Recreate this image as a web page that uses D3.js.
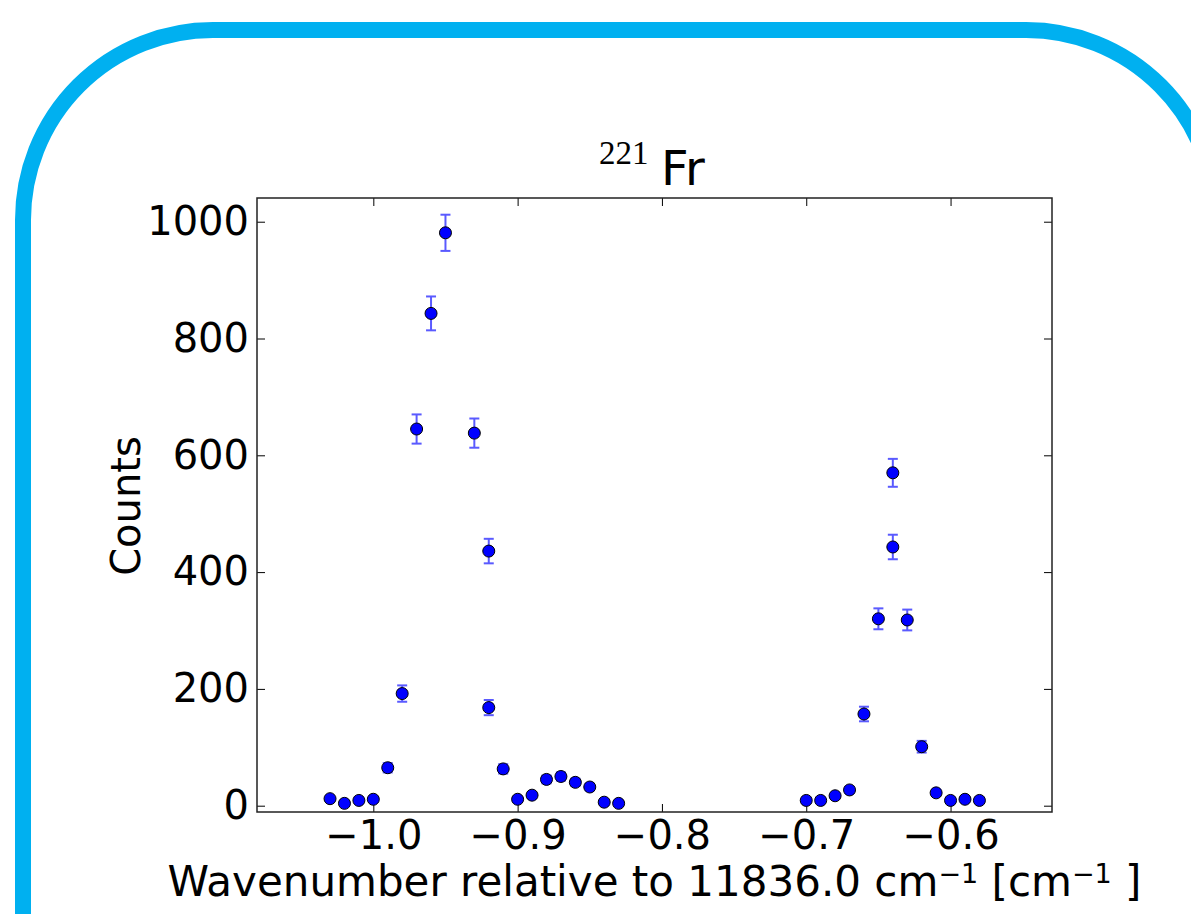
<!DOCTYPE html>
<html>
<head>
<meta charset="utf-8">
<script src="https://cdn.jsdelivr.net/npm/d3@7"></script>
<style>
  body { margin: 0; background: #fff; }
  svg { display: block; font-family: "DejaVu Sans", sans-serif; }
</style>
</head>
<body>
<svg id="chart"></svg>
<script>
// wavenumber offsets (cm^-1), counts and their error bars
const wavenumber = [-1.03, -1.02, -1.01, -1.00, -0.99, -0.98, -0.97, -0.96, -0.95, -0.93,
                    -0.92, -0.92, -0.91, -0.90, -0.89, -0.88, -0.87, -0.86, -0.85, -0.84,
                    -0.83, -0.70, -0.69, -0.68, -0.67, -0.66, -0.65, -0.64, -0.64, -0.63,
                    -0.62, -0.61, -0.60, -0.59, -0.58];
const counts = [12, 4, 9, 11, 65, 192, 645, 843, 981, 638,
                436, 168, 63, 11, 18, 45, 50, 40, 32, 6,
                4, 9, 9, 17, 27, 157, 320, 570, 443, 318,
                101, 22, 9, 11, 9];
const errors = [3.5, 2, 3, 3.3, 8, 14, 25, 29, 31, 25,
                21, 13, 8, 3.3, 4.2, 6.7, 7.1, 6.3, 5.7, 2.4,
                2, 3, 3, 4.1, 5.2, 12.5, 17.9, 23.9, 21, 17.8,
                10, 4.7, 3, 3.3, 3];
const xTicks = [-1.0, -0.9, -0.8, -0.7, -0.6];
const yTicks = [0, 200, 400, 600, 800, 1000];

const W = 1191, H = 914;
const margin = { top: 198, right: 139, bottom: 102, left: 257 },
      width = W - margin.left - margin.right,
      height = H - margin.top - margin.bottom;

const root = d3.select("#chart").attr("width", W).attr("height", H);

// slide frame (runs off the right and bottom edges)
root.append("rect")
    .attr("x", 23).attr("y", 30)
    .attr("width", 1193).attr("height", 1100)
    .attr("rx", 190).attr("ry", 190)
    .attr("fill", "none")
    .attr("stroke", "#00b0f0")
    .attr("stroke-width", 16);

const svg = root.append("g")
    .attr("transform", `translate(${margin.left},${margin.top})`);

const x = d3.scaleLinear().domain([-1.0806, -0.5297]).range([0, width]);
const y = d3.scaleLinear().domain([-10.8, 1040.6]).range([height, 0]);

const fmtX = d3.format(".1f");

const styleAxis = g => {
    g.select(".domain").remove();
    g.selectAll(".tick line").attr("stroke", "#000").attr("stroke-width", 1);
    g.selectAll(".tick text")
        .attr("fill", "#000")
        .style("font-family", "DejaVu Sans")
        .style("font-size", "40px");
};

svg.append("g")
    .attr("transform", `translate(0,${height})`)
    .call(d3.axisBottom(x).tickValues(xTicks).tickFormat(fmtX).tickSize(-8).tickPadding(9))
    .call(styleAxis);

svg.append("g")
    .call(d3.axisTop(x).tickValues(xTicks).tickFormat("").tickSize(-8))
    .call(styleAxis);

svg.append("g")
    .call(d3.axisLeft(y).tickValues(yTicks).tickFormat(d3.format("d")).tickSize(-8).tickPadding(8))
    .call(styleAxis);

svg.append("g")
    .attr("transform", `translate(${width},0)`)
    .call(d3.axisRight(y).tickValues(yTicks).tickFormat("").tickSize(-8))
    .call(styleAxis);

svg.append("rect")
    .attr("width", width).attr("height", height)
    .attr("fill", "none")
    .attr("stroke", "#222")
    .attr("stroke-width", 1.5);

const data = wavenumber.map((w, i) => ({ w, c: counts[i], e: errors[i] }));

// error bars
const eb = svg.selectAll(".err").data(data).enter().append("g")
    .attr("class", "err")
    .attr("stroke", "#5a5aff")
    .attr("stroke-width", 2);
eb.append("line")
    .attr("x1", d => x(d.w)).attr("x2", d => x(d.w))
    .attr("y1", d => y(d.c - d.e)).attr("y2", d => y(d.c + d.e));
eb.append("line")
    .attr("x1", d => x(d.w) - 5).attr("x2", d => x(d.w) + 5)
    .attr("y1", d => y(d.c + d.e)).attr("y2", d => y(d.c + d.e));
eb.append("line")
    .attr("x1", d => x(d.w) - 5).attr("x2", d => x(d.w) + 5)
    .attr("y1", d => y(d.c - d.e)).attr("y2", d => y(d.c - d.e));

svg.selectAll(".pt").data(data).enter().append("circle")
    .attr("class", "pt")
    .attr("cx", d => x(d.w))
    .attr("cy", d => y(d.c))
    .attr("r", 6)
    .attr("fill", "#0000ff")
    .attr("stroke", "#000")
    .attr("stroke-width", 1);

// title: superscript mass number in serif, element symbol in sans
root.append("text")
    .attr("x", 599).attr("y", 164)
    .style("font-family", "Liberation Serif")
    .style("font-size", "33px")
    .text("221");
root.append("text")
    .attr("x", 661).attr("y", 185)
    .style("font-size", "48px")
    .text("Fr");

// y label
root.append("text")
    .attr("transform", "translate(140,506) rotate(-90)")
    .attr("text-anchor", "middle")
    .style("font-size", "40px")
    .text("Counts");

// x label
const xl = root.append("text")
    .attr("x", margin.left + width / 2).attr("y", 896)
    .attr("text-anchor", "middle")
    .style("font-size", "42px");
xl.append("tspan").text("Wavenumber relative to 11836.0 cm");
xl.append("tspan").attr("dy", -13).style("font-size", "27px").text("\u22121");
xl.append("tspan").attr("dy", 13).text(" [cm");
xl.append("tspan").attr("dy", -13).style("font-size", "27px").text("\u22121");
xl.append("tspan").attr("dy", 13).text(" ]");
</script>
</body>
</html>
